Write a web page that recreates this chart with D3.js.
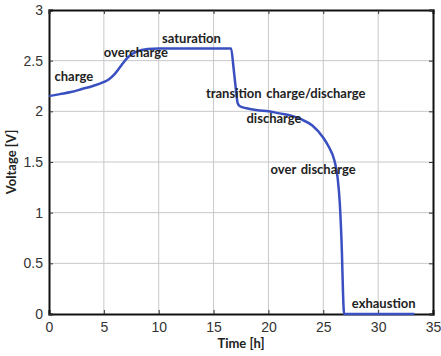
<!DOCTYPE html>
<html>
<head>
<meta charset="utf-8">
<script src="https://cdn.jsdelivr.net/npm/d3@7"></script>
<style>
  body { margin: 0; background: #fff; }
  svg { display: block; }
</style>
</head>
<body>
<div id="chart"></div>
<script>
// values
const timeH = [0, 1, 2, 3, 4, 5, 5.5, 6, 6.5, 7, 7.5, 8, 9, 10, 12, 14, 16, 16.6, 16.8, 17.0, 17.2, 17.4, 18, 19, 20, 21, 22, 23, 24, 25, 25.5, 26, 26.3, 26.5, 26.7, 26.8, 26.9, 27, 30, 33.3];
const voltage = [2.15, 2.17, 2.19, 2.22, 2.25, 2.29, 2.32, 2.37, 2.44, 2.51, 2.56, 2.59, 2.615, 2.62, 2.62, 2.62, 2.62, 2.62, 2.45, 2.25, 2.08, 2.05, 2.03, 2.01, 2.0, 1.98, 1.96, 1.92, 1.86, 1.74, 1.65, 1.52, 1.35, 1.1, 0.6, 0.2, 0, 0, 0, 0];
const xTicks = [0, 5, 10, 15, 20, 25, 30, 35];
const yTicks = [0, 0.5, 1, 1.5, 2, 2.5, 3];
const phaseLabels = ["charge", "overcharge", "saturation", "transition charge/discharge", "discharge", "over discharge", "exhaustion"];
const phaseAt = [[0.5, 2.3], [5, 2.54], [10.3, 2.67], [14.3, 2.13], [18, 1.88], [20.2, 1.38], [27.6, 0.06]];

const W = 441, H = 356;
const m = { left: 49, right: 8, top: 10, bottom: 42 };

const svg = d3.select("#chart").append("svg")
  .attr("width", W).attr("height", H);

const x = d3.scaleLinear().domain([0, 35]).range([m.left, W - m.right]);
const y = d3.scaleLinear().domain([0, 3]).range([H - m.bottom, m.top]);

// grid
svg.append("g").selectAll("line").data(xTicks.slice(1, -1)).enter().append("line")
  .attr("x1", d => x(d)).attr("x2", d => x(d))
  .attr("y1", y(0)).attr("y2", y(3))
  .attr("stroke", "#c8c8c8").attr("stroke-width", 1);
svg.append("g").selectAll("line").data(yTicks.slice(1, -1)).enter().append("line")
  .attr("y1", d => y(d)).attr("y2", d => y(d))
  .attr("x1", x(0)).attr("x2", x(35))
  .attr("stroke", "#c8c8c8").attr("stroke-width", 1);

// axes with inner ticks
svg.append("g").attr("transform", `translate(0,${y(0)})`)
  .call(d3.axisBottom(x).tickValues(xTicks).tickSize(-4).tickPadding(8).tickFormat(d3.format("d")));
svg.append("g").attr("transform", `translate(${x(0)},0)`)
  .call(d3.axisLeft(y).tickValues(yTicks).tickSize(-4).tickPadding(6).tickFormat(d => d));
svg.append("g").attr("transform", `translate(0,${y(3)})`)
  .call(d3.axisTop(x).tickValues(xTicks).tickSize(-4).tickFormat(""));
svg.append("g").attr("transform", `translate(${x(35)},0)`)
  .call(d3.axisRight(y).tickValues(yTicks).tickSize(-4).tickFormat(""));

svg.selectAll(".domain").attr("stroke", "#111").attr("stroke-width", 2);
svg.selectAll(".tick line").attr("stroke", "#333");
svg.selectAll(".tick text")
  .attr("font-family", "Liberation Sans, Arial, sans-serif")
  .attr("font-size", 14).attr("fill", "#333");

// curve
svg.append("path")
  .datum(d3.zip(timeH, voltage))
  .attr("fill", "none")
  .attr("stroke", "#3a50c0")
  .attr("stroke-width", 2.5)
  .attr("d", d3.line().x(d => x(d[0])).y(d => y(d[1])).curve(d3.curveMonotoneX));

// phase labels
svg.append("g").selectAll("text").data(phaseLabels).enter().append("text")
  .attr("x", (d, i) => x(phaseAt[i][0]))
  .attr("y", (d, i) => y(phaseAt[i][1]))
  .attr("font-family", "Lato, Open Sans, sans-serif")
  .attr("font-weight", "bold")
  .attr("font-size", 13)
  .attr("word-spacing", 1.5)
  .attr("fill", "#222")
  .text(d => d);

// axis titles
svg.append("text")
  .attr("x", x(17.5)).attr("y", H - 8)
  .attr("text-anchor", "middle")
  .attr("font-family", "Lato, Open Sans, sans-serif")
  .attr("font-weight", "bold").attr("font-size", 13).attr("fill", "#222")
  .text("Time [h]");
svg.append("text")
  .attr("transform", `translate(16,${y(1.5)}) rotate(-90)`)
  .attr("text-anchor", "middle")
  .attr("font-family", "Lato, Open Sans, sans-serif")
  .attr("font-weight", "bold").attr("font-size", 13).attr("fill", "#222")
  .text("Voltage [V]");
</script>
</body>
</html>
